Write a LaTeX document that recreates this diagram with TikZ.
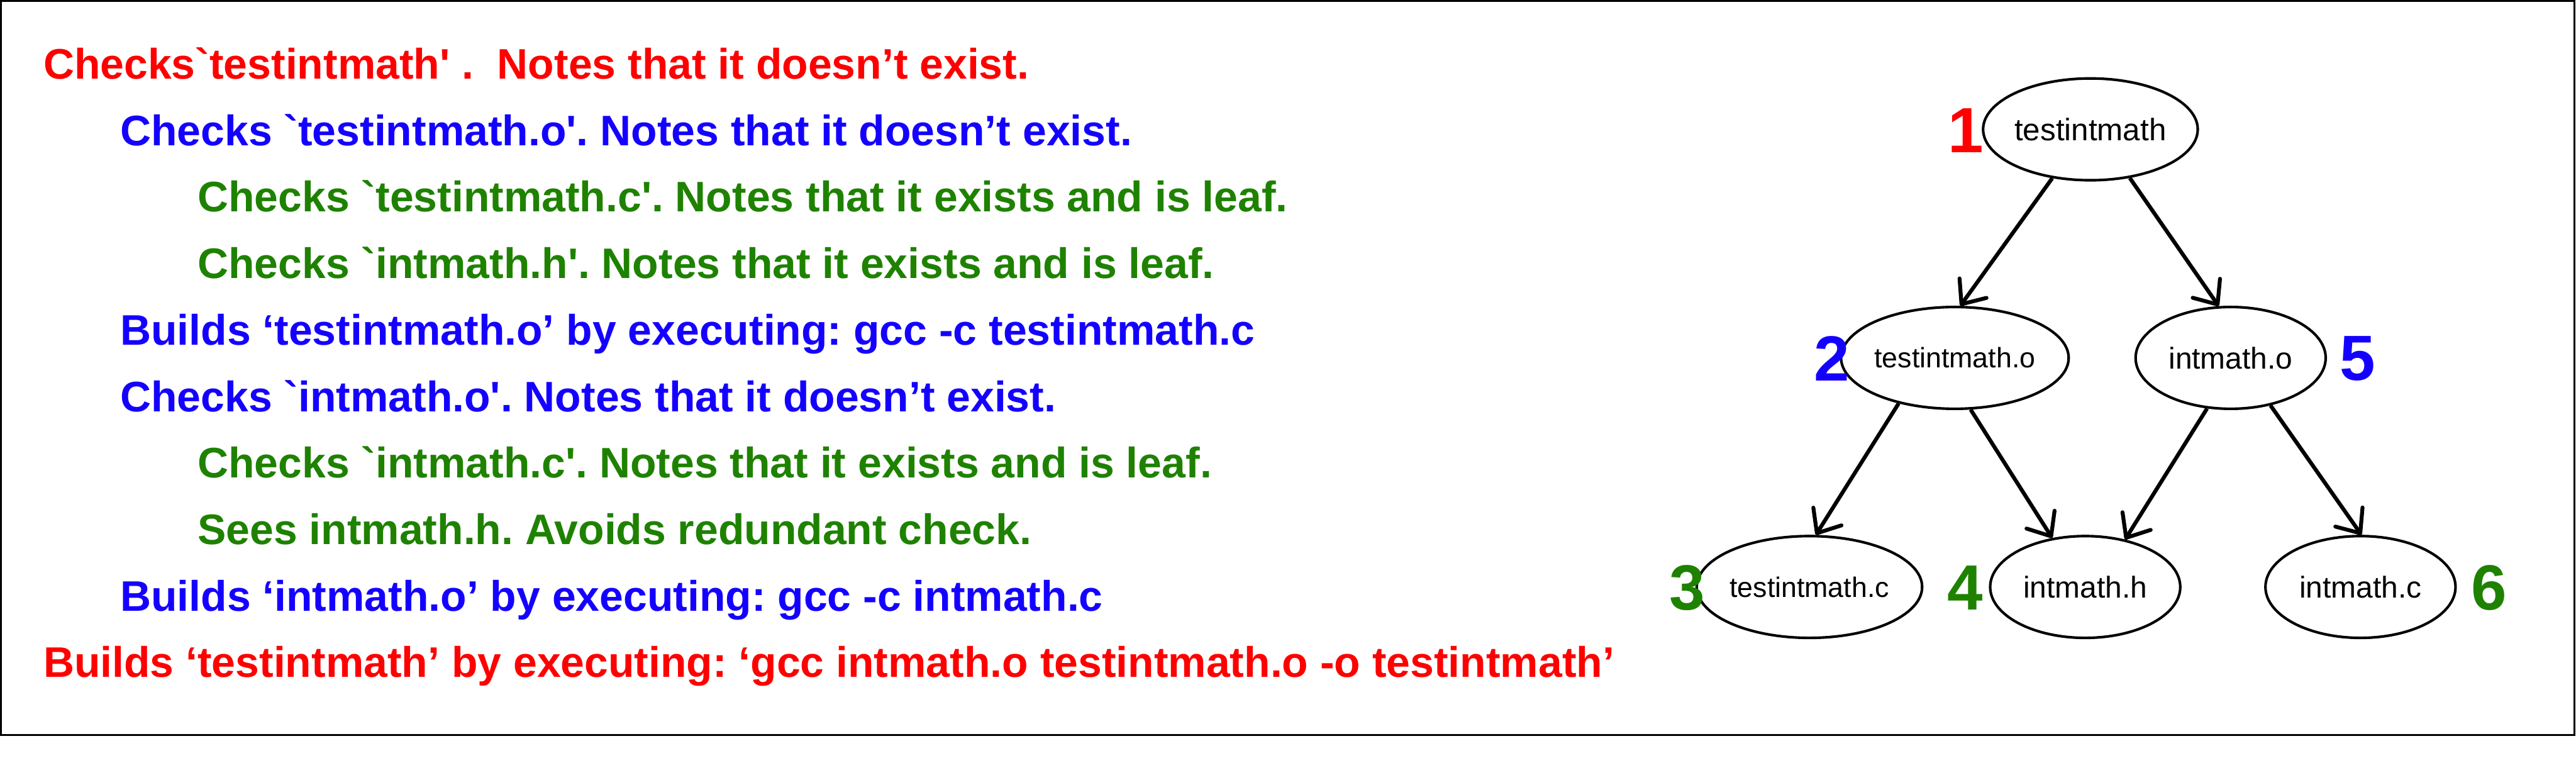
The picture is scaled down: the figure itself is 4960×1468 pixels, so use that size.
\documentclass[tikz,border=0pt]{standalone}
\usepackage{fontspec}
\usetikzlibrary{arrows.meta,shapes.geometric}
\newfontfamily\stepfont{Liberation Sans}
\frenchspacing
\definecolor{mkred}{HTML}{FF0000}
\definecolor{mkblue}{HTML}{1400FF}
\definecolor{mkgreen}{HTML}{1E8200}
\tikzset{
  stepline/.style={anchor=base west,inner sep=0pt,
                   font=\stepfont\bfseries\fontsize{23.4}{28}\selectfont},
  filenode/.style={draw,ellipse,line width=0.5mm,minimum width=36.6mm,
                   minimum height=19.6mm,inner sep=0pt,
                   font=\stepfont\fontsize{#1}{#1}\selectfont},
  filenode/.default=16.5,
  ordnum/.style={inner sep=0pt,font=\stepfont\bfseries\fontsize{35}{40}\selectfont},
  ar/.style={-{Straight Barb[length=3.8mm,width=6.4mm,round]},line width=0.75mm},
}
\begin{document}
\begin{tikzpicture}[x=0.1mm,y=-0.1mm]
  \useasboundingbox (0,0) rectangle (4960,1468);
  \draw[line width=0.4mm] (2,2) rectangle (4957,1415);
  % make steps, one per line
  \foreach \x/\c/\t [count=\j] in
    {83/mkred/{Checks`testintmath' .~ Notes that it doesn’t exist.},
     231/mkblue/{Checks `testintmath.o'. Notes that it doesn’t exist.},
     380/mkgreen/{Checks `testintmath.c'. Notes that it exists and is leaf.},
     380/mkgreen/{Checks `intmath.h'. Notes that it exists and is leaf.},
     231/mkblue/{Builds ‘testintmath.o’ by executing: gcc -c testintmath.c},
     231/mkblue/{Checks `intmath.o'. Notes that it doesn’t exist.},
     380/mkgreen/{Checks `intmath.c'. Notes that it exists and is leaf.},
     380/mkgreen/{Sees intmath.h. Avoids redundant check.},
     231/mkblue/{Builds ‘intmath.o’ by executing: gcc -c intmath.c},
     83/mkred/{Builds ‘testintmath’ by executing: ‘gcc intmath.o testintmath.o -o testintmath’}}
    {\node[stepline,text=\c] (s\j) at (\x,{152+128*(\j-1)}) {\t};}
  % dependency tree
  \node[filenode=17] (tim) at (4025,249) {testintmath};
  \node[filenode=15.4] (timo) at (3764,689) {testintmath.o};
  \node[filenode] (imo) at (4295,689) {intmath.o};
  \node[filenode=15.4] (timc) at (3484,1130) {testintmath.c};
  \node[filenode] (imh) at (4015,1130) {intmath.h};
  \node[filenode] (imc) at (4545,1130) {intmath.c};
  \node[ordnum,text=mkred] (n1) at (3785,251) {1};
  \node[ordnum,text=mkblue] (n2) at (3527,690) {2};
  \node[ordnum,text=mkgreen] (n3) at (3248,1132) {3};
  \node[ordnum,text=mkgreen] (n4) at (3784,1132) {4};
  \node[ordnum,text=mkblue] (n5) at (4540,690) {5};
  \node[ordnum,text=mkgreen] (n6) at (4792,1132) {6};
  \draw[ar] (tim.232) -- (timo.84);
  \draw[ar] (tim.309) -- (imo.103);
  \draw[ar] (timo.219) -- (timc.83);
  \draw[ar] (timo.287) -- (imh.124);
  \draw[ar] (imo.245) -- (imh.50);
  \draw[ar] (imo.310) -- (imc.89);
\end{tikzpicture}
\end{document}
